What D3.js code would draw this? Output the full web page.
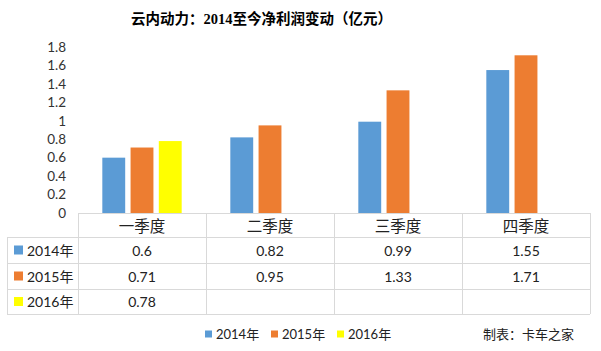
<!DOCTYPE html>
<html><head><meta charset="utf-8">
<script src="https://cdn.jsdelivr.net/npm/d3@7"></script>
<style>body{margin:0;background:#fff}svg{display:block}</style>
</head><body>
<svg id="c" width="601" height="351"></svg>
<script>
const title = "云内动力：2014至今净利润变动（亿元）";
const categories = ["一季度","二季度","三季度","四季度"];
const seriesNames = ["2014年","2015年","2016年"];
const s2014 = [0.6, 0.82, 0.99, 1.55];
const s2015 = [0.71, 0.95, 1.33, 1.71];
const s2016 = [0.78, null, null, null];
const yTicks = [0,0.2,0.4,0.6,0.8,1,1.2,1.4,1.6,1.8];
const yTickLabels = ["0","0.2","0.4","0.6","0.8","1","1.2","1.4","1.6","1.8"];
const source = "制表：卡车之家";
const colors = ["#5B9BD5","#ED7D31","#FFFF00"];
const seriesValues = [s2014, s2015, s2016];

(function(){
const font = "Lato, 'Noto Sans CJK SC', sans-serif";
const svg = d3.select("#c");
const grid = "#d9d9d9";

const pLeft = 78, pRight = 590, pTop = 47, base = 213;
const tableLeft = 7, rowH = [213, 237, 263, 289, 314];

const x0 = d3.scaleBand().domain(categories).range([pLeft, pRight]);
const bw = x0.bandwidth();
const x1 = d3.scaleBand().domain(seriesNames).range([bw*0.19, bw*0.81]).paddingInner(0.19);
const y = d3.scaleLinear().domain([0, 1.8]).range([base, pTop]);

// title
svg.append("text").attr("x", 131).attr("y", 19).attr("dominant-baseline","central")
  .attr("font-family","'Liberation Serif','Noto Sans CJK SC',serif").attr("font-weight","bold")
  .attr("font-size",14.5).attr("fill","#000").text(title);

// y axis labels
const yAxis = d3.axisLeft(y).tickValues(yTicks).tickSize(0).tickPadding(0)
  .tickFormat((d,i)=>yTickLabels[i]);
const ga = svg.append("g").attr("transform",`translate(66,0)`).call(yAxis);
ga.select(".domain").remove();
ga.selectAll("text").attr("font-family",font).attr("font-size",13.5).attr("fill","#333");

// bars
seriesNames.forEach((s, si) => {
  svg.append("g").selectAll("rect")
    .data(categories.map((c,i)=>({c, v: seriesValues[si][i]})).filter(d=>d.v!=null))
    .join("rect")
    .attr("x", d => x0(d.c) + x1(s))
    .attr("width", x1.bandwidth())
    .attr("y", d => y(d.v))
    .attr("height", d => base - y(d.v))
    .attr("fill", colors[si]);
});

// table grid
const tg = svg.append("g").attr("stroke", grid).attr("stroke-width",1).attr("shape-rendering","crispEdges");
tg.append("line").attr("x1",pLeft).attr("x2",pRight).attr("y1",rowH[0]).attr("y2",rowH[0]);
for (let r=1;r<rowH.length;r++) tg.append("line").attr("x1",tableLeft).attr("x2",pRight).attr("y1",rowH[r]).attr("y2",rowH[r]);
tg.append("line").attr("x1",tableLeft).attr("x2",tableLeft).attr("y1",rowH[1]).attr("y2",rowH[4]);
const vxs = categories.map(c=>x0(c)).concat([pRight]);
vxs.forEach(vx => tg.append("line").attr("x1",vx).attr("x2",vx).attr("y1",rowH[0]).attr("y2",rowH[4]));

// header
svg.append("g").selectAll("text").data(categories).join("text")
  .attr("x", d => x0(d) + bw/2).attr("y", (rowH[0]+rowH[1])/2+1)
  .attr("text-anchor","middle").attr("dominant-baseline","central")
  .attr("font-family",font).attr("font-size",15.5).attr("fill","#222").text(d=>d);

// rows
seriesNames.forEach((s, si) => {
  const cy = (rowH[si+1]+rowH[si+2])/2;
  svg.append("rect").attr("x",14).attr("y",cy-4.5).attr("width",9).attr("height",9).attr("fill",colors[si]);
  svg.append("text").attr("x",27).attr("y",cy).attr("dominant-baseline","central")
    .attr("font-family",font).attr("font-size",14).attr("fill","#222").text(s);
  svg.append("g").selectAll("text")
    .data(categories.map((c,i)=>({c, v: seriesValues[si][i]})).filter(d=>d.v!=null))
    .join("text")
    .attr("x", d => x0(d.c)+bw/2).attr("y", cy)
    .attr("text-anchor","middle").attr("dominant-baseline","central")
    .attr("font-family",font).attr("font-size",14).attr("fill","#222").text(d=>String(d.v));
});

// legend
const legX = [205, 271, 337];
seriesNames.forEach((s, si) => {
  svg.append("rect").attr("x",legX[si]).attr("y",330.5).attr("width",7).attr("height",7).attr("fill",colors[si]);
  svg.append("text").attr("x",legX[si]+11).attr("y",334).attr("dominant-baseline","central")
    .attr("font-family",font).attr("font-size",13).attr("fill","#222").text(s);
});
svg.append("text").attr("x",483).attr("y",334).attr("dominant-baseline","central")
  .attr("font-family",font).attr("font-size",13).attr("fill","#222").text(source);
})();
</script>
</body></html>
